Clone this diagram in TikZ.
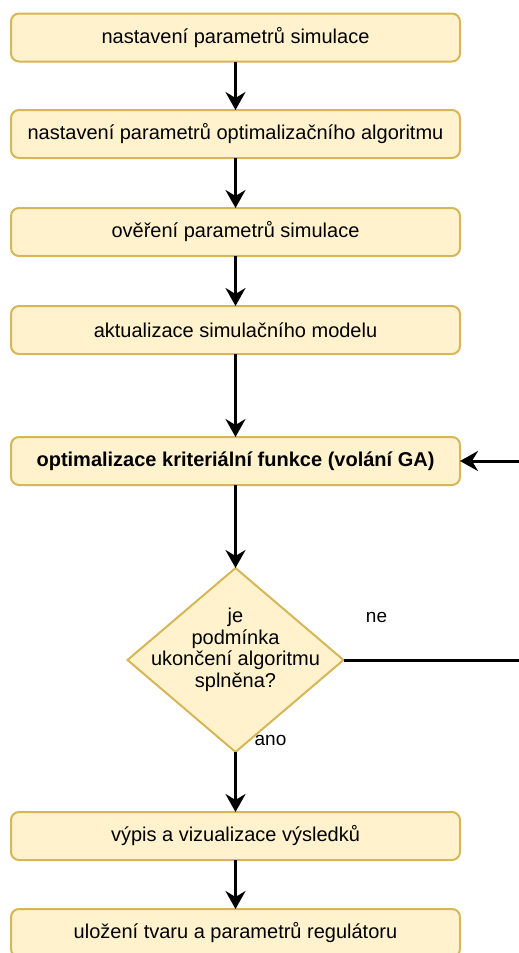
\documentclass[tikz,border=0pt]{standalone}
\usepackage{fontspec}
\setmainfont{Liberation Sans}
\usetikzlibrary{positioning}
\usetikzlibrary{shapes.geometric}
\usetikzlibrary{arrows.meta}

\definecolor{stepfill}{HTML}{FFF2CC}
\definecolor{stepline}{HTML}{D6B656}

\begin{document}
\begin{tikzpicture}[
    x=0.5pt, y=-0.5pt,
    stepbox/.style={draw=stepline, fill=stepfill, line width=1pt, rounded corners=4pt, align=center, minimum width=224.5pt, minimum height=24pt, inner sep=2pt, outer sep=0pt, font=\fontsize{10}{12}\selectfont},
    decision/.style={diamond, draw=stepline, fill=stepfill, line width=1pt, minimum width=108pt, minimum height=92pt, inner sep=0pt, outer sep=0pt},
    flow/.style={draw, line width=1.5pt, -{Stealth[length=9pt, width=10pt, inset=3pt]}},
    note/.style={font=\fontsize{9.5}{11}\selectfont, inner sep=1pt}
  ]
    \useasboundingbox (0,0) rectangle (519,953);

    \node[stepbox] (sim) at (235.5,37.5) {nastavení parametrů simulace};
    \node[stepbox, below=24.25pt of sim] (alg) {nastavení parametrů optimalizačního algoritmu};
    \node[stepbox, below=25pt of alg] (check) {ověření parametrů simulace};
    \node[stepbox, below=25pt of check] (model) {aktualizace simulačního modelu};
    \node[stepbox, below=41.5pt of model, font=\fontsize{10}{12}\selectfont\bfseries] (opt) {optimalizace kriteriální funkce (volání GA)};
    \node[decision, below=41.5pt of opt] (dia) {};
    \node[align=center, font=\fontsize{10}{10.8}\selectfont] (diatext) at ([yshift=5pt]dia.center) {je\\podmínka\\ukončení algoritmu\\splněna?};
    \node[stepbox, below=30pt of dia] (out) {výpis a vizualizace výsledků};
    \node[stepbox, below=24.5pt of out] (save) {uložení tvaru a parametrů regulátoru};

    % labels at the decision
    \node[note] (ne) at ([xshift=16.5pt, yshift=21.5pt]dia.east) {ne};
    \node[note] (ano) at ([xshift=17.5pt, yshift=6pt]dia.south) {ano};

    \draw[flow] (sim) -- (alg);
    \draw[flow] (alg) -- (check);
    \draw[flow] (check) -- (model);
    \draw[flow] (model) -- (opt);
    \draw[flow] (opt) -- (dia);
    \draw[flow] (dia) -- (out);
    \draw[flow] (out) -- (save);

    % loop back (runs past the right edge)
    \coordinate (back) at ([xshift=95pt]dia.east);
    \draw[flow] (dia.east) -- (back) |- (opt.east);
  \end{tikzpicture}
\end{document}
